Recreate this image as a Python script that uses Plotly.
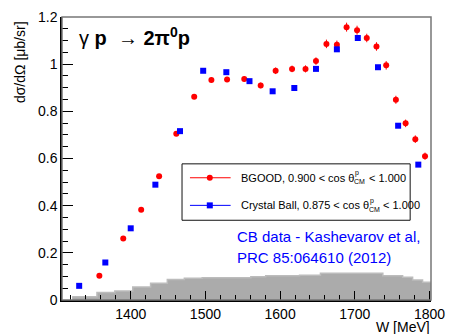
import plotly.graph_objects as go

# BGOOD measurement, 0.900 < cos theta_CM^p < 1.000
bgood_w = [1358, 1390, 1414, 1438, 1461, 1485, 1508, 1529, 1552, 1574, 1594, 1616,
           1634, 1648, 1662, 1676, 1689, 1703, 1716, 1729, 1742, 1755, 1768, 1781, 1794]
bgood_xs = [0.103, 0.261, 0.383, 0.525, 0.705, 0.862, 0.933, 0.935, 0.937, 0.910, 0.972, 0.980,
            0.980, 1.013, 1.086, 1.082, 1.157, 1.144, 1.111, 1.075, 0.995, 0.849, 0.749, 0.682, 0.610]
bgood_err = [0.006, 0.007, 0.007, 0.008, 0.009, 0.010, 0.011, 0.011, 0.011, 0.012, 0.014, 0.014,
             0.015, 0.016, 0.018, 0.018, 0.019, 0.019, 0.018, 0.018, 0.018, 0.017, 0.016, 0.016, 0.015]

# Crystal Ball (Kashevarov et al.), 0.875 < cos theta_CM^p < 1.000
cb_w = [1331, 1366, 1400, 1433, 1466, 1497, 1528, 1559, 1590, 1619, 1648, 1676, 1704, 1731, 1758, 1785]
cb_xs = [0.060, 0.159, 0.304, 0.489, 0.716, 0.972, 0.966, 0.928, 0.885, 0.899, 0.980, 1.063,
         1.111, 0.987, 0.739, 0.574]

# Systematic uncertainty band (step histogram)
sys_edges = [1321.6, 1354.8, 1378.7, 1402.7, 1426.6, 1449.0, 1471.8, 1495.7, 1560.8, 1580.7,
             1626.0, 1654.0, 1737.5, 1764.0, 1777.4, 1790.7, 1802.0]
sys_vals = [0.014, 0.032, 0.038, 0.055, 0.071, 0.087, 0.092, 0.094, 0.099, 0.103,
            0.105, 0.113, 0.103, 0.096, 0.085, 0.075]

W, H = 454, 334
L, R, T, B = 62, 434, 9, 300
FONT = "Liberation Sans, Arial, Helvetica, sans-serif"


def px(x):
    return (x - L) / (R - L)


def py(y):
    return (B - y) / (B - T)


fig = go.Figure()

fig.add_trace(go.Scatter(
    x=sys_edges, y=sys_vals + [sys_vals[-1]], mode="lines", line_shape="hv",
    line=dict(color="#bcbcbc", width=1.5), fill="tozeroy", fillcolor="#ababab",
    hoverinfo="skip", showlegend=False))

fig.add_trace(go.Scatter(
    x=bgood_w, y=bgood_xs, mode="markers",
    marker=dict(symbol="circle", size=6, color="#ff0000"),
    error_y=dict(type="data", array=bgood_err, color="#ff0000", thickness=1, width=0),
    showlegend=False))

fig.add_trace(go.Scatter(
    x=cb_w, y=cb_xs, mode="markers",
    marker=dict(symbol="square", size=6, color="#0000ff"),
    showlegend=False))

shapes = [
    # frame
    dict(type="rect", xref="paper", yref="paper", x0=0, x1=1, y0=0, y1=1,
         line=dict(color="#777777", width=1.5), layer="above"),
    # legend box
    dict(type="rect", xref="paper", yref="paper", x0=px(183), x1=px(413), y0=py(218), y1=py(160),
         line=dict(color="#111111", width=1), fillcolor="white", layer="above"),
]
annotations = []

legend_rows = [
    dict(y=174.3, color="#ff0000", symbol="circle", label="BGOOD, 0.900 < cos θ", lx=240,
         theta_end=355, tail_x=369),
    dict(y=202.7, color="#0000ff", symbol="square", label="Crystal Ball, 0.875 < cos θ", lx=240,
         theta_end=370, tail_x=384),
]
for row in legend_rows:
    yy = py(row["y"])
    shapes.append(dict(type="line", xref="paper", yref="paper", x0=px(191), x1=px(232), y0=yy, y1=yy,
                       line=dict(color=row["color"], width=1), layer="above"))
    shapes.append(dict(type="circle" if row["symbol"] == "circle" else "rect",
                       xref="paper", yref="paper", xsizemode="pixel", ysizemode="pixel",
                       xanchor=px(211), yanchor=yy, x0=-3, x1=3, y0=-3, y1=3,
                       fillcolor=row["color"], line=dict(color=row["color"], width=0), layer="above"))
    annotations.append(dict(text=row["label"], x=px(row["lx"]), y=yy, xref="paper", yref="paper",
                            xanchor="left", yanchor="middle", showarrow=False,
                            font=dict(family=FONT, size=11, color="black")))
    annotations.append(dict(text="p", x=px(row["theta_end"] + 1), y=py(row["y"] - 5),
                            xref="paper", yref="paper", xanchor="left", yanchor="middle",
                            showarrow=False, borderpad=0,
                            font=dict(family=FONT, size=7, color="black")))
    annotations.append(dict(text="CM", x=px(row["theta_end"]), y=py(row["y"] + 4),
                            xref="paper", yref="paper", xanchor="left", yanchor="middle",
                            showarrow=False, borderpad=0,
                            font=dict(family=FONT, size=7, color="black")))
    annotations.append(dict(text="< 1.000", x=px(row["tail_x"]), y=yy, xref="paper", yref="paper",
                            xanchor="left", yanchor="middle", showarrow=False,
                            font=dict(family=FONT, size=11, color="black")))

annotations += [
    dict(text="γ <b>p</b>  → <b>2π<sup>0</sup>p</b>", x=px(77), y=py(29), xref="paper", yref="paper",
         xanchor="left", yanchor="middle", showarrow=False,
         font=dict(family=FONT, size=20, color="black")),
    dict(text="CB data - Kashevarov et al,", x=px(236), y=py(235), xref="paper", yref="paper",
         xanchor="left", yanchor="middle", showarrow=False,
         font=dict(family=FONT, size=15, color="#0000ff")),
    dict(text="PRC 85:064610 (2012)", x=px(236), y=py(256), xref="paper", yref="paper",
         xanchor="left", yanchor="middle", showarrow=False,
         font=dict(family=FONT, size=15, color="#0000ff")),
    dict(text="dσ/dΩ [μb/sr]", textangle=-90, x=px(19), y=py(55), xref="paper", yref="paper",
         xanchor="center", yanchor="middle", showarrow=False,
         font=dict(family=FONT, size=14, color="black")),
    dict(text="W [MeV]", x=px(434), y=py(328), xref="paper", yref="paper",
         xanchor="right", yanchor="middle", showarrow=False, borderpad=0,
         font=dict(family=FONT, size=14, color="black")),
]

fig.update_layout(
    width=W, height=H,
    margin=dict(l=L, r=W - R, t=T, b=H - B),
    paper_bgcolor="white", plot_bgcolor="white",
    shapes=shapes, annotations=annotations,
    font=dict(family=FONT, size=14, color="black"),
    showlegend=False,
)
fig.update_xaxes(
    range=[1308, 1802], dtick=100, tick0=1400, ticks="inside", ticklen=9, tickcolor="black",
    showline=True, linecolor="black", linewidth=1.5, showgrid=False, zeroline=False,
    tickfont=dict(family=FONT, size=14, color="black"),
    minor=dict(dtick=20, tick0=1400, ticks="inside", ticklen=5, tickcolor="black", showgrid=False),
)
fig.update_yaxes(
    range=[0, 1.2], dtick=0.2, ticks="inside", ticklen=11, tickcolor="black",
    showline=True, linecolor="black", linewidth=1.5, showgrid=False, zeroline=False,
    tickfont=dict(family=FONT, size=14, color="black"),
    minor=dict(dtick=0.05, ticks="inside", ticklen=6, tickcolor="black", showgrid=False),
)

fig.write_html("out.html")
